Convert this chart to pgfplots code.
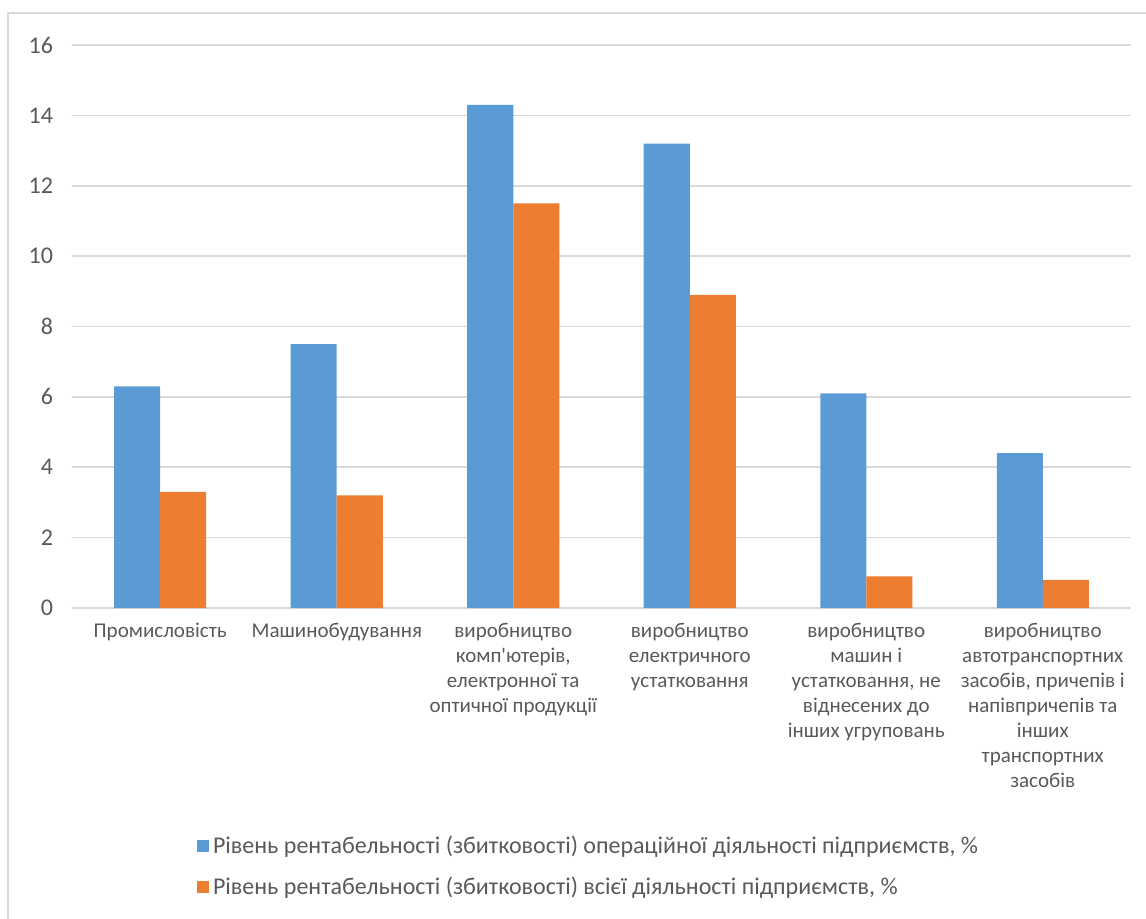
\documentclass[border=0pt]{standalone}
\usepackage{pgfplots}
\pgfplotsset{compat=1.18}
\usepackage{fontspec}
\setmainfont{Carlito}
\definecolor{cblue}{RGB}{91,155,213}
\definecolor{corange}{RGB}{237,125,49}
\definecolor{cgrid}{RGB}{217,217,217}
\definecolor{ctext}{RGB}{89,89,89}
\begin{document}
\begin{tikzpicture}
\path[use as bounding box] (-36pt,-155pt) rectangle (537pt,304pt);
\draw[cgrid, line width=0.8pt] (-32pt,297.5pt) rectangle (600pt,-300pt);
\begin{axis}[
  at={(0pt,0pt)}, anchor=south west,
  scale only axis, width=529.5pt, height=281.5pt,
  ybar=0pt, bar width=23pt,
  xmin=-0.5, xmax=5.5, ymin=0, ymax=16,
  ytick={0,2,...,16},
  xtick=data,
  xticklabels={{Промисловість},{Машинобудування},{виробництво\\комп\textquotesingle ютерів,\\електронної та\\оптичної продукції},{виробництво\\електричного\\устатковання},{виробництво\\машин і\\устатковання, не\\віднесених до\\інших угруповань},{виробництво\\автотранспортних\\засобів, причепів і\\напівпричепів та\\інших\\транспортних\\засобів}},
  xticklabel style={align=center, font=\fontsize{10.5pt}{12.5pt}\selectfont, text=ctext, anchor=north, yshift=-4pt},
  yticklabel style={font=\fontsize{12pt}{14pt}\selectfont, text=ctext, xshift=-6pt},
  /pgf/number format/assume math mode=true,
  ymajorgrids, major grid style={cgrid, line width=0.8pt},
  axis line style={draw=none},
  major tick length=0pt,
  legend style={at={(0.112,-0.39)}, anchor=north west, draw=none, fill=none,
    font=\fontsize{12pt}{14pt}\selectfont, text=ctext, row sep=6pt,
    legend cell align=left},
  legend image code/.code={\fill[#1] (0pt,-3pt) rectangle (6pt,3pt);},
]
\addplot[fill=cblue, draw=none] coordinates {(0,6.3) (1,7.5) (2,14.3) (3,13.2) (4,6.1) (5,4.4)};
\addplot[fill=corange, draw=none] coordinates {(0,3.3) (1,3.2) (2,11.5) (3,8.9) (4,0.9) (5,0.8)};
\legend{{Рівень рентабельності (збитковості) операційної діяльності підприємств, \%},
        {Рівень рентабельності (збитковості) всієї діяльності підприємств, \%}}
\end{axis}
\end{tikzpicture}
\end{document}
